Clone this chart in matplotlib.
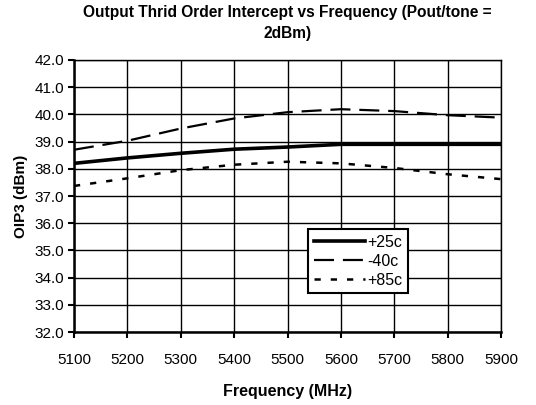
import matplotlib.pyplot as plt

plt.rcParams['font.family'] = ['Liberation Sans', 'DejaVu Sans']

freq = [5100, 5200, 5300, 5400, 5500, 5600, 5700, 5800, 5900]
oip3_25c = [38.2, 38.4, 38.57, 38.72, 38.8, 38.9, 38.9, 38.9, 38.9]
oip3_m40c = [38.7, 39.03, 39.48, 39.85, 40.08, 40.19, 40.12, 39.97, 39.88]
oip3_85c = [37.37, 37.65, 37.95, 38.15, 38.26, 38.2, 38.03, 37.8, 37.62]

yticks = [32, 33, 34, 35, 36, 37, 38, 39, 40, 41, 42]

fig = plt.figure(figsize=(5.36, 4.05), dpi=100)
ax = fig.add_axes([0.138, 0.180, 0.797, 0.672])

ax.plot(freq, oip3_25c, color='black', lw=2.6, label='+25c')
ax.plot(freq, oip3_m40c, color='black', lw=1.6, dashes=(9, 4), label='-40c')
ax.plot(freq, oip3_85c, color='black', lw=1.8, dashes=(2.5, 4), label='+85c')

ax.set_xlim(5100, 5900)
ax.set_ylim(32, 42)
ax.set_xticks(freq)
ax.set_yticks(yticks)
ax.set_yticklabels([f'{v:.1f}' for v in yticks])
ax.grid(True, color='black', lw=1.0)
ax.set_axisbelow(True)
for s in ax.spines.values():
    s.set_linewidth(1.0)
ax.spines['left'].set_linewidth(1.8)
ax.spines['bottom'].set_linewidth(1.8)
ax.tick_params(direction='out', length=4, width=1.5, labelsize=11, pad=3)
ax.tick_params(axis='x', pad=11)

ax.set_xlabel('Frequency (MHz)', fontsize=11.5, fontweight='bold', labelpad=12)
ax.set_ylabel('OIP3 (dBm)', fontsize=11, fontweight='bold', labelpad=5)
ax.set_title('Output Thrid Order Intercept vs Frequency (Pout/tone =\n2dBm)',
             fontsize=11.2, fontweight='bold', pad=16, linespacing=1.45)

leg = ax.legend(loc='lower left', bbox_to_anchor=(0.548, 0.142), fontsize=11.5,
                frameon=True, fancybox=False, edgecolor='black', framealpha=1,
                handlelength=3.2, handletextpad=0.15, borderpad=0.35,
                labelspacing=0.25, borderaxespad=0)
leg.get_frame().set_linewidth(1.5)

fig.savefig('out.png', dpi=100)
